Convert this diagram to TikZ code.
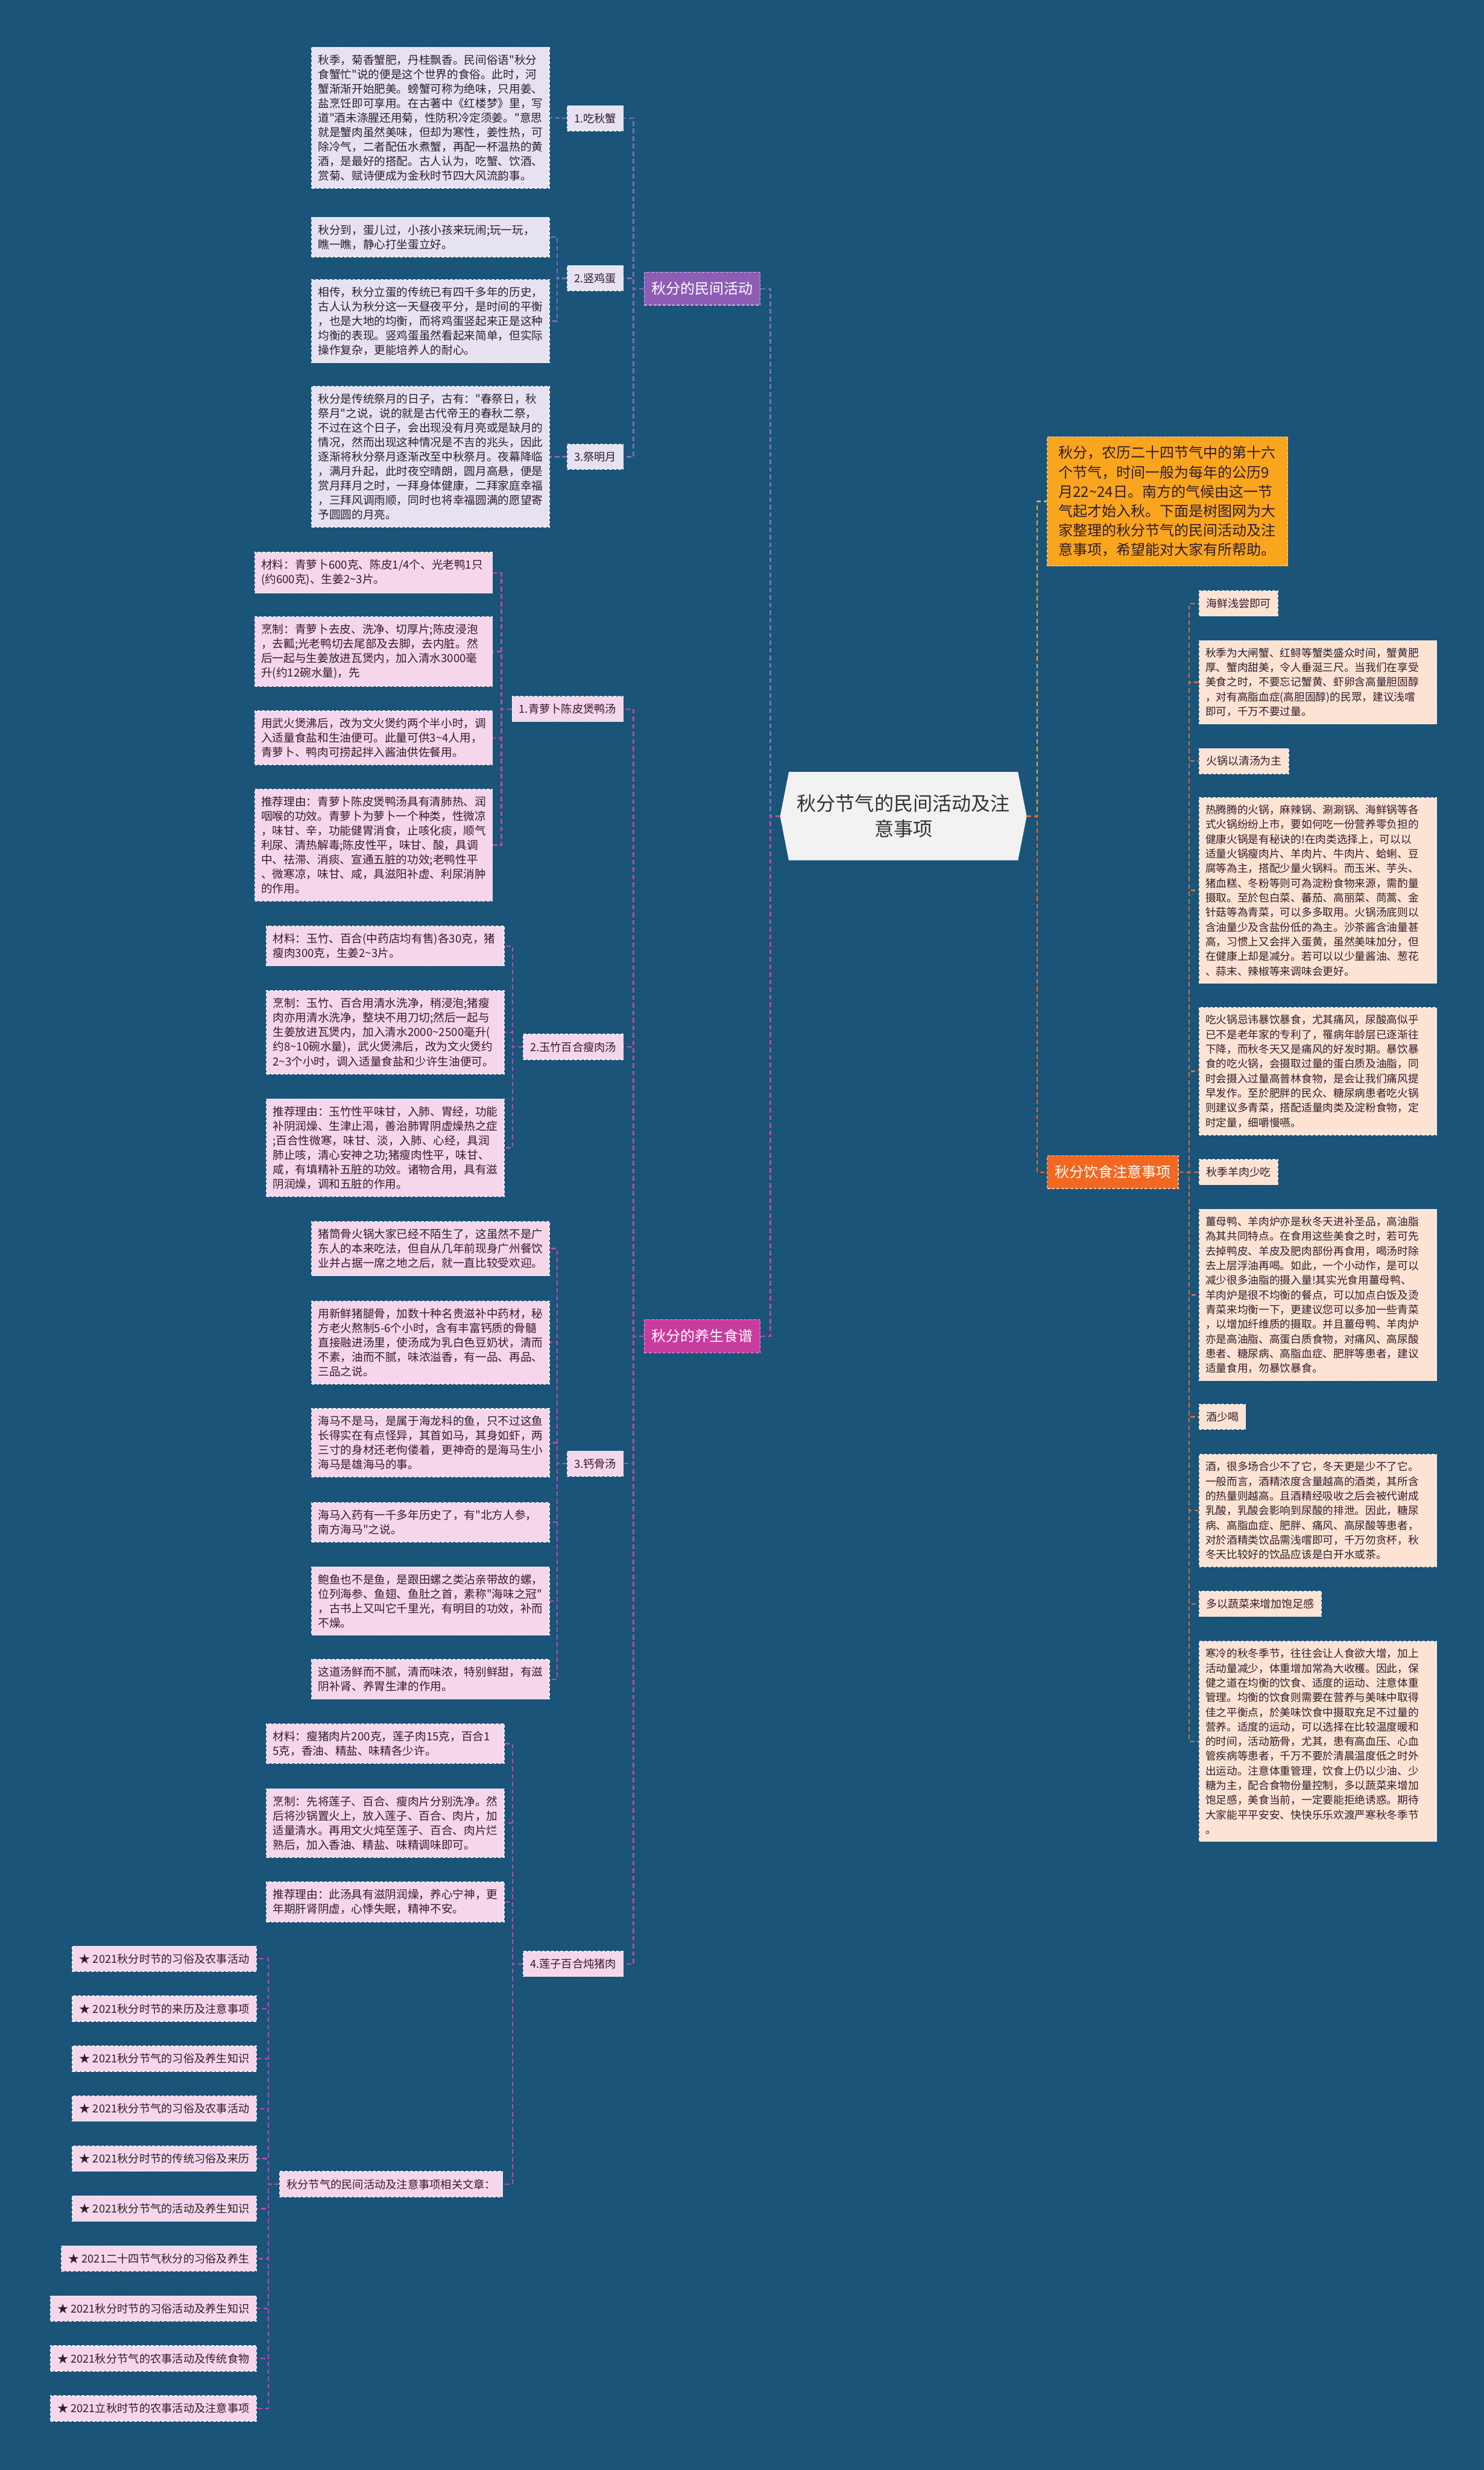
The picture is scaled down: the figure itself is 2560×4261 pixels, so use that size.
\documentclass[tikz,border=0pt]{standalone}
\usepackage{fontspec}
\setmainfont{Noto Sans CJK SC}[Ligatures=TeXOff]
\usepackage{xcolor}
\usepackage{tikz}
\usetikzlibrary{backgrounds}
\definecolor{bgblue}{RGB}{26,84,121}
\definecolor{ink}{RGB}{48,30,44}
\definecolor{rootfill}{RGB}{242,242,242}
\definecolor{rootink}{RGB}{51,51,51}
\definecolor{folkhub}{RGB}{142,93,182}
\definecolor{folkfill}{RGB}{231,226,241}
\definecolor{folkline}{RGB}{128,108,186}
\definecolor{dishhub}{RGB}{200,60,158}
\definecolor{dishfill}{RGB}{245,214,234}
\definecolor{dishline}{RGB}{192,72,168}
\definecolor{introfill}{RGB}{249,165,30}
\definecolor{introline}{RGB}{240,172,52}
\definecolor{diethub}{RGB}{242,104,32}
\definecolor{dietfill}{RGB}{252,227,212}
\definecolor{dietline}{RGB}{204,112,62}
\newcommand{\tld}{\string~}
\exhyphenpenalty=10000
\hyphenpenalty=10000

\begin{document}
\begin{tikzpicture}[x=1pt, y=1pt,
  link/.style={line width=2.4pt, dash pattern=on 8pt off 5pt},
  rim/.style={line width=1.3pt, dash pattern=on 5pt off 3pt},
  txt/.style={rim, align=left, text width=388pt, inner xsep=11pt,
              inner ysep=12.5pt, text=ink, font=\fontsize{19.4}{25}\selectfont},
  rtxt/.style={txt, font=\fontsize{18.4}{25.3}\selectfont},
  lab/.style={rim, inner xsep=12pt, inner ysep=13pt, text=ink,
              font=\fontsize{19}{22}\selectfont},
  rlab/.style={lab, font=\fontsize{18.7}{22}\selectfont},
  item/.style={lab, font=\fontsize{19}{22}\selectfont},
  hub/.style={rim, inner xsep=12.5pt, inner ysep=16pt, minimum height=57pt,
              text=white, font=\fontsize{25}{30}\selectfont},
  folk/.style={fill=folkfill, draw=white!75!folkfill},
  dish/.style={fill=dishfill, draw=white!75!dishfill},
  diet/.style={fill=dietfill, draw=white!75!dietfill}]
\useasboundingbox (0,0) rectangle (2560,-4261);

\node[align=center, minimum width=425pt, minimum height=152pt, text=rootink,
      font=\fontsize{33.4}{43.3}\selectfont] (root) at (1558.5,-1408)
  {秋分节气的民间活动及注\\意事项};

% 秋分的民间活动
\node[hub, fill=folkhub, draw=white!55!folkhub, anchor=east] (folk) at (1312,-498) {秋分的民间活动};
\node[lab, folk, anchor=east] (crab) at (1076,-204) {1.吃秋蟹};
\node[lab, folk, anchor=east] (egg)  at (1076,-480) {2.竖鸡蛋};
\node[lab, folk, anchor=east] (moon) at (1076,-788) {3.祭明月};
\node[txt, folk, anchor=west] (crabT) at (537,-203)
  {秋季，菊香蟹肥，丹桂飘香。民间俗语"秋分\\
   食蟹忙"说的便是这个世界的食俗。此时，河\\
   蟹渐渐开始肥美。螃蟹可称为绝味，只用姜、\\
   盐烹饪即可享用。在古著中《红楼梦》里，写\\
   道"酒未涤腥还用菊，性防积冷定须姜。"意思\\
   就是蟹肉虽然美味，但却为寒性，姜性热，可\\
   除冷气，二者配伍水煮蟹，再配一杯温热的黄\\
   酒，是最好的搭配。古人认为，吃蟹、饮酒、\\
   赏菊、赋诗便成为金秋时节四大风流韵事。};
\node[txt, folk, anchor=west] (eggA) at (537,-409)
  {秋分到，蛋儿过，小孩小孩来玩闹;玩一玩，\\
   瞧一瞧，静心打坐蛋立好。};
\node[txt, folk, anchor=west] (eggB) at (537,-554)
  {相传，秋分立蛋的传统已有四千多年的历史，\\
   古人认为秋分这一天昼夜平分，是时间的平衡\\
   ，也是大地的均衡，而将鸡蛋竖起来正是这种\\
   均衡的表现。竖鸡蛋虽然看起来简单，但实际\\
   操作复杂，更能培养人的耐心。};
\node[txt, folk, anchor=west] (moonT) at (537,-788)
  {秋分是传统祭月的日子，古有："春祭日，秋\\
   祭月"之说，说的就是古代帝王的春秋二祭，\\
   不过在这个日子，会出现没有月亮或是缺月的\\
   情况，然而出现这种情况是不吉的兆头，因此\\
   逐渐将秋分祭月逐渐改至中秋祭月。夜幕降临\\
   ，满月升起，此时夜空晴朗，圆月高悬，便是\\
   赏月拜月之时，一拜身体健康，二拜家庭幸福\\
   ，三拜风调雨顺，同时也将幸福圆满的愿望寄\\
   予圆圆的月亮。};

% 秋分的养生食谱
\node[hub, fill=dishhub, draw=white!55!dishhub, anchor=east] (dish) at (1312,-2305) {秋分的养生食谱};
\node[lab, dish, anchor=east] (duck)  at (1076,-1223) {1.青萝卜陈皮煲鸭汤};
\node[lab, dish, anchor=east] (lily)  at (1076,-1806) {2.玉竹百合瘦肉汤};
\node[lab, dish, anchor=east] (bone)  at (1076,-2525) {3.钙骨汤};
\node[lab, dish, anchor=east] (lotus) at (1076,-3388) {4.莲子百合炖猪肉};

\node[txt, dish, anchor=west] (duckA) at (439,-988)
  {材料：青萝卜600克、陈皮1/4个、光老鸭1只\\
   (约600克)、生姜2\tld3片。};
\node[txt, dish, anchor=west] (duckB) at (439,-1124)
  {烹制：青萝卜去皮、洗净、切厚片;陈皮浸泡\\
   ，去瓤;光老鸭切去尾部及去脚，去内脏。然\\
   后一起与生姜放进瓦煲内，加入清水3000毫\\
   升(约12碗水量)，先};
\node[txt, dish, anchor=west] (duckC) at (439,-1273)
  {用武火煲沸后，改为文火煲约两个半小时，调\\
   入适量食盐和生油便可。此量可供3\tld4人用，\\
   青萝卜、鸭肉可捞起拌入酱油供佐餐用。};
\node[txt, dish, anchor=west] (duckD) at (439,-1458)
  {推荐理由：青萝卜陈皮煲鸭汤具有清肺热、润\\
   咽喉的功效。青萝卜为萝卜一个种类，性微凉\\
   ，味甘、辛，功能健胃消食，止咳化痰，顺气\\
   利尿、清热解毒;陈皮性平，味甘、酸，具调\\
   中、祛滞、消痰、宣通五脏的功效;老鸭性平\\
   、微寒凉，味甘、咸，具滋阳补虚、利尿消肿\\
   的作用。};

\node[txt, dish, anchor=west] (lilyA) at (459,-1632)
  {材料：玉竹、百合(中药店均有售)各30克，猪\\
   瘦肉300克，生姜2\tld3片。};
\node[txt, dish, anchor=west] (lilyB) at (459,-1781)
  {烹制：玉竹、百合用清水洗净，稍浸泡;猪瘦\\
   肉亦用清水洗净，整块不用刀切;然后一起与\\
   生姜放进瓦煲内，加入清水2000\tld2500毫升(\\
   约8\tld10碗水量)，武火煲沸后，改为文火煲约\\
   2\tld3个小时，调入适量食盐和少许生油便可。};
\node[txt, dish, anchor=west] (lilyC) at (459,-1980)
  {推荐理由：玉竹性平味甘，入肺、胃经，功能\\
   补阴润燥、生津止渴，善治肺胃阴虚燥热之症\\
   ;百合性微寒，味甘、淡，入肺、心经，具润\\
   肺止咳，清心安神之功;猪瘦肉性平，味甘、\\
   咸，有填精补五脏的功效。诸物合用，具有滋\\
   阴润燥，调和五脏的作用。};

\node[txt, dish, anchor=west] (boneA) at (537,-2154)
  {猪筒骨火锅大家已经不陌生了，这虽然不是广\\
   东人的本来吃法，但自从几年前现身广州餐饮\\
   业并占据一席之地之后，就一直比较受欢迎。};
\node[txt, dish, anchor=west] (boneB) at (537,-2316)
  {用新鲜猪腿骨，加数十种名贵滋补中药材，秘\\
   方老火熬制5-6个小时，含有丰富钙质的骨髓\\
   直接融进汤里，使汤成为乳白色豆奶状，清而\\
   不素，油而不腻，味浓溢香，有一品、再品、\\
   三品之说。};
\node[txt, dish, anchor=west] (boneC) at (537,-2489)
  {海马不是马，是属于海龙科的鱼，只不过这鱼\\
   长得实在有点怪异，其首如马，其身如虾，两\\
   三寸的身材还老佝偻着，更神奇的是海马生小\\
   海马是雄海马的事。};
\node[txt, dish, anchor=west] (boneD) at (537,-2626)
  {海马入药有一千多年历史了，有"北方人参，\\
   南方海马"之说。};
\node[txt, dish, anchor=west] (boneE) at (537,-2762)
  {鲍鱼也不是鱼，是跟田螺之类沾亲带故的螺，\\
   位列海参、鱼翅、鱼肚之首，素称"海味之冠"\\
   ，古书上又叫它千里光，有明目的功效，补而\\
   不燥。};
\node[txt, dish, anchor=west] (boneF) at (537,-2897)
  {这道汤鲜而不腻，清而味浓，特别鲜甜，有滋\\
   阴补肾、养胃生津的作用。};

\node[txt, dish, anchor=west] (lotusA) at (459,-3008)
  {材料：瘦猪肉片200克，莲子肉15克，百合1\\
   5克，香油、精盐、味精各少许。};
\node[txt, dish, anchor=west] (lotusB) at (459,-3145)
  {烹制：先将莲子、百合、瘦肉片分别洗净。然\\
   后将沙锅置火上，放入莲子、百合、肉片，加\\
   适量清水。再用文火炖至莲子、百合、肉片烂\\
   熟后，加入香油、精盐、味精调味即可。};
\node[txt, dish, anchor=west] (lotusC) at (459,-3281)
  {推荐理由：此汤具有滋阴润燥，养心宁神，更\\
   年期肝肾阴虚，心悸失眠，精神不安。};
\node[lab, dish, anchor=east] (rel) at (868,-3768) {秋分节气的民间活动及注意事项相关文章：};

\foreach \t [count=\i] in {★ 2021秋分时节的习俗及农事活动, ★ 2021秋分时节的来历及注意事项,
    ★ 2021秋分节气的习俗及养生知识, ★ 2021秋分节气的习俗及农事活动,
    ★ 2021秋分时节的传统习俗及来历, ★ 2021秋分节气的活动及养生知识,
    ★ 2021二十四节气秋分的习俗及养生, ★ 2021秋分时节的习俗活动及养生知识,
    ★ 2021秋分节气的农事活动及传统食物, ★ 2021立秋时节的农事活动及注意事项}
  \node[item, dish, anchor=east] (art\i) at (443,{-3379-86.2*(\i-1)}) {\t};

% 右侧
\node[rim, fill=introfill, draw=white!60!introfill, anchor=west, align=left,
      text width=376pt, inner xsep=19.5pt, inner ysep=16pt, text=ink,
      font=\fontsize{25}{33.5}\selectfont] (intro) at (1806,-865)
  {秋分，农历二十四节气中的第十六\\
   个节气，时间一般为每年的公历9\\
   月22\tld24日。南方的气候由这一节\\
   气起才始入秋。下面是树图网为大\\
   家整理的秋分节气的民间活动及注\\
   意事项，希望能对大家有所帮助。};
\node[hub, fill=diethub, draw=white!55!diethub, anchor=west, minimum width=226pt] (diet)
  at (1806,-2022) {秋分饮食注意事项};

\node[rlab, diet, anchor=west] (sea) at (2068,-1041) {海鲜浅尝即可};
\node[rtxt, diet, anchor=west] (seaT) at (2068,-1177)
  {秋季为大闸蟹、红鲟等蟹类盛众时间，蟹黄肥\\
   厚、蟹肉甜美，令人垂涎三尺。当我们在享受\\
   美食之时，不要忘记蟹黄、虾卵含高量胆固醇\\
   ，对有高脂血症(高胆固醇)的民眾，建议浅嚐\\
   即可，千万不要过量。};
\node[rlab, diet, anchor=west] (pot) at (2068,-1313) {火锅以清汤为主};
\node[rtxt, diet, anchor=west] (potA) at (2068,-1536)
  {热腾腾的火锅，麻辣锅、涮涮锅、海鲜锅等各\\
   式火锅纷纷上市，要如何吃一份营养零负担的\\
   健康火锅是有秘诀的!在肉类选择上，可以以\\
   适量火锅瘦肉片、羊肉片、牛肉片、蛤蜊、豆\\
   腐等為主，搭配少量火锅料。而玉米、芋头、\\
   猪血糕、冬粉等则可為淀粉食物来源，需酌量\\
   摄取。至於包白菜、蕃茄、高丽菜、茼蒿、金\\
   针菇等為青菜，可以多多取用。火锅汤底则以\\
   含油量少及含盐份低的為主。沙茶酱含油量甚\\
   高，习惯上又会拌入蛋黄，虽然美味加分，但\\
   在健康上却是减分。若可以以少量酱油、葱花\\
   、蒜末、辣椒等来调味会更好。};
\node[rtxt, diet, anchor=west] (potB) at (2068,-1848)
  {吃火锅忌讳暴饮暴食，尤其痛风，尿酸高似乎\\
   已不是老年家的专利了，罹病年龄层已逐渐往\\
   下降，而秋冬天又是痛风的好发时期。暴饮暴\\
   食的吃火锅，会摄取过量的蛋白质及油脂，同\\
   时会摄入过量高普林食物，是会让我们痛风提\\
   早发作。至於肥胖的民众、糖尿病患者吃火锅\\
   则建议多青菜，搭配适量肉类及淀粉食物，定\\
   时定量，细嚼慢嚥。};
\node[rlab, diet, anchor=west] (mutton) at (2068,-2022) {秋季羊肉少吃};
\node[rtxt, diet, anchor=west] (muttonT) at (2068,-2234)
  {薑母鸭、羊肉炉亦是秋冬天进补圣品，高油脂\\
   為其共同特点。在食用这些美食之时，若可先\\
   去掉鸭皮、羊皮及肥肉部份再食用，喝汤时除\\
   去上层浮油再喝。如此，一个小动作，是可以\\
   减少很多油脂的摄入量!其实光食用薑母鸭、\\
   羊肉炉是很不均衡的餐点，可以加点白饭及烫\\
   青菜来均衡一下，更建议您可以多加一些青菜\\
   ，以增加纤维质的摄取。并且薑母鸭、羊肉炉\\
   亦是高油脂、高蛋白质食物，对痛风、高尿酸\\
   患者、糖尿病、高脂血症、肥胖等患者，建议\\
   适量食用，勿暴饮暴食。};
\node[rlab, diet, anchor=west] (wine) at (2068,-2444) {酒少喝};
\node[rtxt, diet, anchor=west] (wineT) at (2068,-2606)
  {酒，很多场合少不了它，冬天更是少不了它。\\
   一般而言，酒精浓度含量越高的酒类，其所含\\
   的热量则越高。且酒精经吸收之后会被代谢成\\
   乳酸，乳酸会影响到尿酸的排泄。因此，糖尿\\
   病、高脂血症、肥胖、痛风、高尿酸等患者，\\
   对於酒精类饮品需浅嚐即可，千万勿贪杯，秋\\
   冬天比较好的饮品应该是白开水或茶。};
\node[rlab, diet, anchor=west] (veg) at (2068,-2767) {多以蔬菜来增加饱足感};
\node[rtxt, diet, anchor=west] (vegT) at (2068,-3004)
  {寒冷的秋冬季节，往往会让人食欲大增，加上\\
   活动量减少，体重增加常為大收穫。因此，保\\
   健之道在均衡的饮食、适度的运动、注意体重\\
   管理。均衡的饮食则需要在营养与美味中取得\\
   佳之平衡点，於美味饮食中摄取充足不过量的\\
   营养。适度的运动，可以选择在比较温度暖和\\
   的时间，活动筋骨，尤其，患有高血压、心血\\
   管疾病等患者，千万不要於清晨温度低之时外\\
   出运动。注意体重管理，饮食上仍以少油、少\\
   糖为主，配合食物份量控制，多以蔬菜来增加\\
   饱足感，美食当前，一定要能拒绝诱惑。期待\\
   大家能平平安安、快快乐乐欢渡严寒秋冬季节\\
   。};

\begin{scope}[on background layer]
  \fill[bgblue] (0,0) rectangle (2560,-4261);
  \fill[rootfill] (root.west) -- ([xshift=15pt]root.north west)
    -- ([xshift=-15pt]root.north east) -- (root.east)
    -- ([xshift=-15pt]root.south east) -- ([xshift=15pt]root.south west) -- cycle;
\end{scope}

\draw[link, folkline] (root.west) -- ([xshift=-17pt]root.west) |- (folk.east);
\draw[link, dishline] (root.west) -- ([xshift=-17pt]root.west) |- (dish.east);
\draw[link, introline] (root.east) -- ([xshift=18pt]root.east) |- (intro.west);
\draw[link, diethub] (root.east) -- ([xshift=18pt]root.east) |- (diet.west);

\foreach \c in {crab,egg,moon}
  \draw[link, folkline] (folk.west) -- ([xshift=-18pt]folk.west) |- (\c.east);
\draw[link, folkline] (crab.west) -- ([xshift=-17pt]crab.west) |- (crabT.east);
\foreach \c in {eggA,eggB}
  \draw[link, folkline] (egg.west) -- ([xshift=-17pt]egg.west) |- (\c.east);
\draw[link, folkline] (moon.west) -- ([xshift=-17pt]moon.west) |- (moonT.east);

\foreach \c in {duck,lily,bone,lotus}
  \draw[link, dishline] (dish.west) -- ([xshift=-18pt]dish.west) |- (\c.east);
\foreach \c in {duckA,duckB,duckC,duckD}
  \draw[link, dishline] (duck.west) -- ([xshift=-18pt]duck.west) |- (\c.east);
\foreach \c in {lilyA,lilyB,lilyC}
  \draw[link, dishline] (lily.west) -- ([xshift=-18pt]lily.west) |- (\c.east);
\foreach \c in {boneA,boneB,boneC,boneD,boneE,boneF}
  \draw[link, dishline] (bone.west) -- ([xshift=-17pt]bone.west) |- (\c.east);
\foreach \c in {lotusA,lotusB,lotusC,rel}
  \draw[link, dishline] (lotus.west) -- ([xshift=-18pt]lotus.west) |- (\c.east);
\foreach \i in {1,...,10}
  \draw[link, dishline] (rel.west) -- ([xshift=-19pt]rel.west) |- (art\i.east);

\foreach \c in {sea,seaT,pot,potA,potB,mutton,muttonT,wine,wineT,veg,vegT}
  \draw[link, dietline] (diet.east) -- ([xshift=18pt]diet.east) |- (\c.west);
\end{tikzpicture}
\end{document}
